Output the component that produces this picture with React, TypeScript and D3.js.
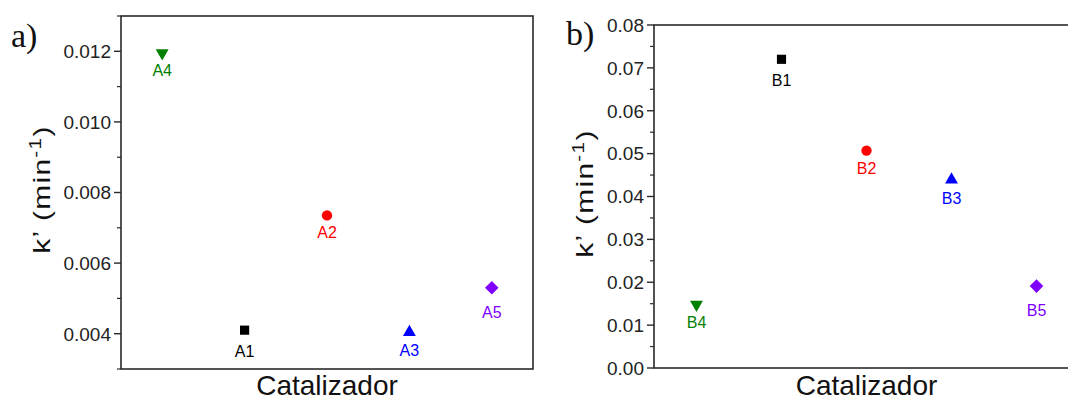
import React from 'react';
import * as d3 from 'd3';

// panel a) catalysts A, in plotted order
const catA = ['A4', 'A1', 'A2', 'A3', 'A5'];
const kA = [0.01195, 0.0041, 0.00735, 0.00404, 0.0053];
const ticksA = [0.004, 0.006, 0.008, 0.01, 0.012];

// panel b) catalysts B
const catB = ['B4', 'B1', 'B2', 'B3', 'B5'];
const kB = [0.0148, 0.072, 0.0507, 0.0439, 0.0191];
const ticksB = [0, 0.01, 0.02, 0.03, 0.04, 0.05, 0.06, 0.07, 0.08];

// style by catalyst number (1..5)
const colors: Record<string, string> = {
  '1': '#000000',
  '2': '#ff0000',
  '3': '#0000ff',
  '4': '#008000',
  '5': '#8000ff',
};
const shapes: Record<string, string> = {
  '1': 'square',
  '2': 'circle',
  '3': 'up',
  '4': 'down',
  '5': 'diamond',
};
const labelDy: Record<string, number> = { square: 27, circle: 23, up: 24, down: 23, diamond: 30 };

const sans = 'Arial, "Liberation Sans", Helvetica, sans-serif';
const serif = '"Times New Roman", "Liberation Serif", serif';

function markerPath(shape: string) {
  if (shape === 'square') return d3.symbol(d3.symbolSquare, 84)()!;
  if (shape === 'circle') return d3.symbol(d3.symbolCircle, 84)()!;
  if (shape === 'diamond') return d3.symbol(d3.symbolSquare, 92)()!;
  return d3.symbol(d3.symbolTriangle, 72)()!;
}

function markerRotate(shape: string) {
  if (shape === 'down') return 180;
  if (shape === 'diamond') return 45;
  return 0;
}

type PanelProps = {
  letter: string;
  cats: string[];
  values: number[];
  ticks: number[];
  minorStep: number;
  domain: [number, number];
  left: number;
  right: number;
  top: number;
  bottom: number;
  fmt: string;
  titleX: number;
  letterX: number;
  letterY: number;
};

function Panel(p: PanelProps) {
  const x = d3.scalePoint<string>().domain(p.cats).range([p.left, p.right]).padding(0.5);
  const y = d3.scaleLinear().domain(p.domain).range([p.bottom, p.top]);
  const fmt = d3.format(p.fmt);
  const minor = d3.range(p.domain[0], p.domain[1] + p.minorStep / 2, p.minorStep)
    .filter(v => !p.ticks.some(t => Math.abs(t - v) < p.minorStep / 10));
  const midY = (p.top + p.bottom) / 2 - 3;

  return (
    <g>
      <text x={p.letterX} y={p.letterY} fontFamily={serif} fontSize={34} fill="#111">{p.letter}</text>
      <rect x={p.left} y={p.top} width={p.right - p.left} height={p.bottom - p.top}
        fill="none" stroke="#2a2a2a" strokeWidth={1.6} />
      {p.ticks.map(t => (
        <g key={'t' + t}>
          <line x1={p.left - 7} x2={p.left} y1={y(t)} y2={y(t)} stroke="#2a2a2a" strokeWidth={1.4} />
          <text x={p.left - 10} y={y(t)} dy="0.36em" textAnchor="end" fontFamily={sans}
            fontSize={19} fill="#222">{fmt(t)}</text>
        </g>
      ))}
      {minor.map(t => (
        <line key={'m' + t} x1={p.left - 4} x2={p.left} y1={y(t)} y2={y(t)} stroke="#2a2a2a" strokeWidth={1.2} />
      ))}
      {/* axis title is drawn a little stretched along its length, as in the source figure */}
      <text transform={`translate(${p.titleX},${midY}) rotate(-90) scale(1.3,1)`} textAnchor="middle"
        fontFamily={sans} fontSize={23} fill="#111" letterSpacing={1}>
        k’ (min<tspan fontSize={16} dy={-9}>-1</tspan><tspan dy={9}>)</tspan>
      </text>
      <text x={(p.left + p.right) / 2} y={395} textAnchor="middle" fontFamily={sans}
        fontSize={28} fill="#111">Catalizador</text>
      {p.cats.map((c, i) => {
        const num = c.slice(1);
        const shape = shapes[num];
        const cx = x(c)!;
        const cy = y(p.values[i]);
        return (
          <g key={c}>
            <path d={markerPath(shape)} fill={colors[num]}
              transform={`translate(${cx},${cy}) rotate(${markerRotate(shape)})`} />
            <text x={cx} y={cy + labelDy[shape]} textAnchor="middle" fontFamily={sans}
              fontSize={16} fill={colors[num]}>{c}</text>
          </g>
        );
      })}
    </g>
  );
}

export default function App() {
  return (
    <svg width={1068} height={401} style={{ position: 'absolute', left: 0, top: 0, background: '#fff' }}>
      <Panel letter="a)" cats={catA} values={kA} ticks={ticksA} minorStep={0.001}
        domain={[0.003, 0.013]} left={121} right={533} top={16} bottom={369} fmt=".3f"
        titleX={50} letterX={11} letterY={47} />
      <Panel letter="b)" cats={catB} values={kB} ticks={ticksB} minorStep={0.005}
        domain={[0, 0.08]} left={654} right={1079} top={25} bottom={368} fmt=".2f"
        titleX={593} letterX={566} letterY={45} />
    </svg>
  );
}
